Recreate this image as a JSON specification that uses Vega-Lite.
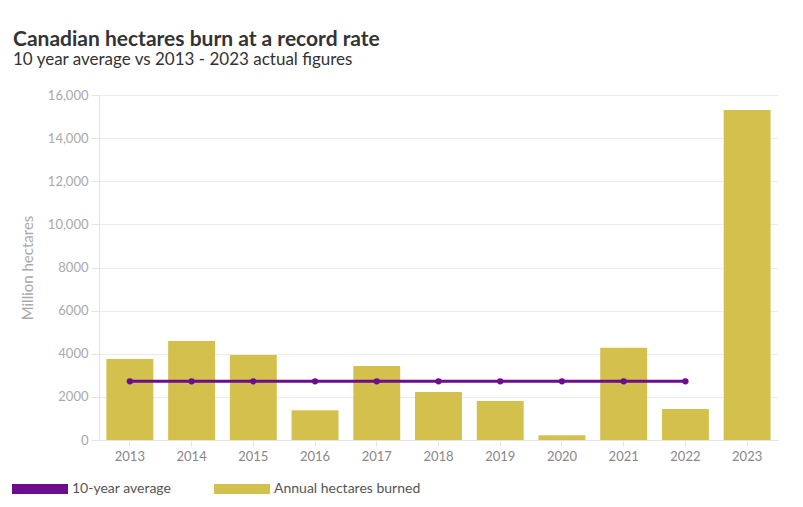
{
  "$schema": "https://vega.github.io/schema/vega-lite/v6.json",
  "autosize": "none",
  "width": 679,
  "height": 345,
  "padding": {"left": 99, "top": 95, "right": 25, "bottom": 67},
  "background": "white",
  "config": {
    "font": "Lato",
    "view": {"stroke": null}
  },
  "title": {
    "text": "Canadian hectares burn at a record rate",
    "subtitle": "10 year average vs 2013 - 2023 actual figures",
    "anchor": "start",
    "frame": "group",
    "dx": -86,
    "offset": 21,
    "font": "Lato",
    "fontSize": 21,
    "fontWeight": "bold",
    "color": "#333333",
    "subtitleFont": "Lato",
    "subtitleFontSize": 17,
    "subtitleColor": "#333333",
    "subtitlePadding": 2
  },
  "data": {
    "values": [
      {"year": "2013", "burned": 3760, "avg": 2720},
      {"year": "2014", "burned": 4590, "avg": 2720},
      {"year": "2015", "burned": 3940, "avg": 2720},
      {"year": "2016", "burned": 1380, "avg": 2720},
      {"year": "2017", "burned": 3430, "avg": 2720},
      {"year": "2018", "burned": 2230, "avg": 2720},
      {"year": "2019", "burned": 1810, "avg": 2720},
      {"year": "2020", "burned": 220, "avg": 2720},
      {"year": "2021", "burned": 4280, "avg": 2720},
      {"year": "2022", "burned": 1440, "avg": 2720},
      {"year": "2023", "burned": 15300, "avg": null}
    ]
  },
  "encoding": {
    "x": {
      "field": "year",
      "type": "ordinal",
      "scale": {"paddingInner": 0.24},
      "axis": {
        "title": null,
        "labelAngle": 0,
        "labelColor": "#888888",
        "labelFontSize": 13,
        "labelPadding": 4,
        "domainColor": "#e4e4e4",
        "tickColor": "#e4e4e4",
        "tickSize": 6,
        "grid": false
      }
    }
  },
  "layer": [
    {
      "mark": {"type": "bar", "color": "#D4C04C"},
      "encoding": {
        "y": {
          "field": "burned",
          "type": "quantitative",
          "scale": {"domain": [0, 16000], "nice": false},
          "axis": {
            "title": "Million hectares",
            "titleColor": "#aaaaaa",
            "titleFontSize": 15,
            "titleFontWeight": "normal",
            "titlePadding": 12,
            "values": [0, 2000, 4000, 6000, 8000, 10000, 12000, 14000, 16000],
            "labelExpr": "datum.value >= 10000 ? format(datum.value, ',') : format(datum.value, 'd')",
            "labelColor": "#aaaaaa",
            "labelFontSize": 13,
            "labelPadding": 3,
            "domain": true,
            "domainColor": "#e4e4e4",
            "tickColor": "#e4e4e4",
            "tickSize": 8,
            "gridColor": "#ececec"
          }
        },
        "color": {
          "datum": "Annual hectares burned",
          "scale": {
            "domain": ["10-year average", "Annual hectares burned"],
            "range": ["#6B0D8C", "#D4C04C"]
          },
          "legend": {
            "title": null,
            "orient": "none",
            "direction": "horizontal",
            "legendX": -87,
            "legendY": 366,
            "symbolType": "M-1,-0.18L1,-0.18L1,0.18L-1,0.18Z",
            "symbolSize": 3136,
            "symbolStrokeWidth": 0,
            "symbolOpacity": 1,
            "labelFontSize": 14,
            "labelColor": "#555555",
            "labelOffset": 4,
            "columnPadding": 42
          }
        }
      }
    },
    {
      "transform": [{"filter": "datum.avg != null"}],
      "mark": {"type": "line", "strokeWidth": 3, "point": {"filled": true, "size": 40}},
      "encoding": {
        "y": {"field": "avg", "type": "quantitative"},
        "color": {"datum": "10-year average"}
      }
    }
  ]
}
